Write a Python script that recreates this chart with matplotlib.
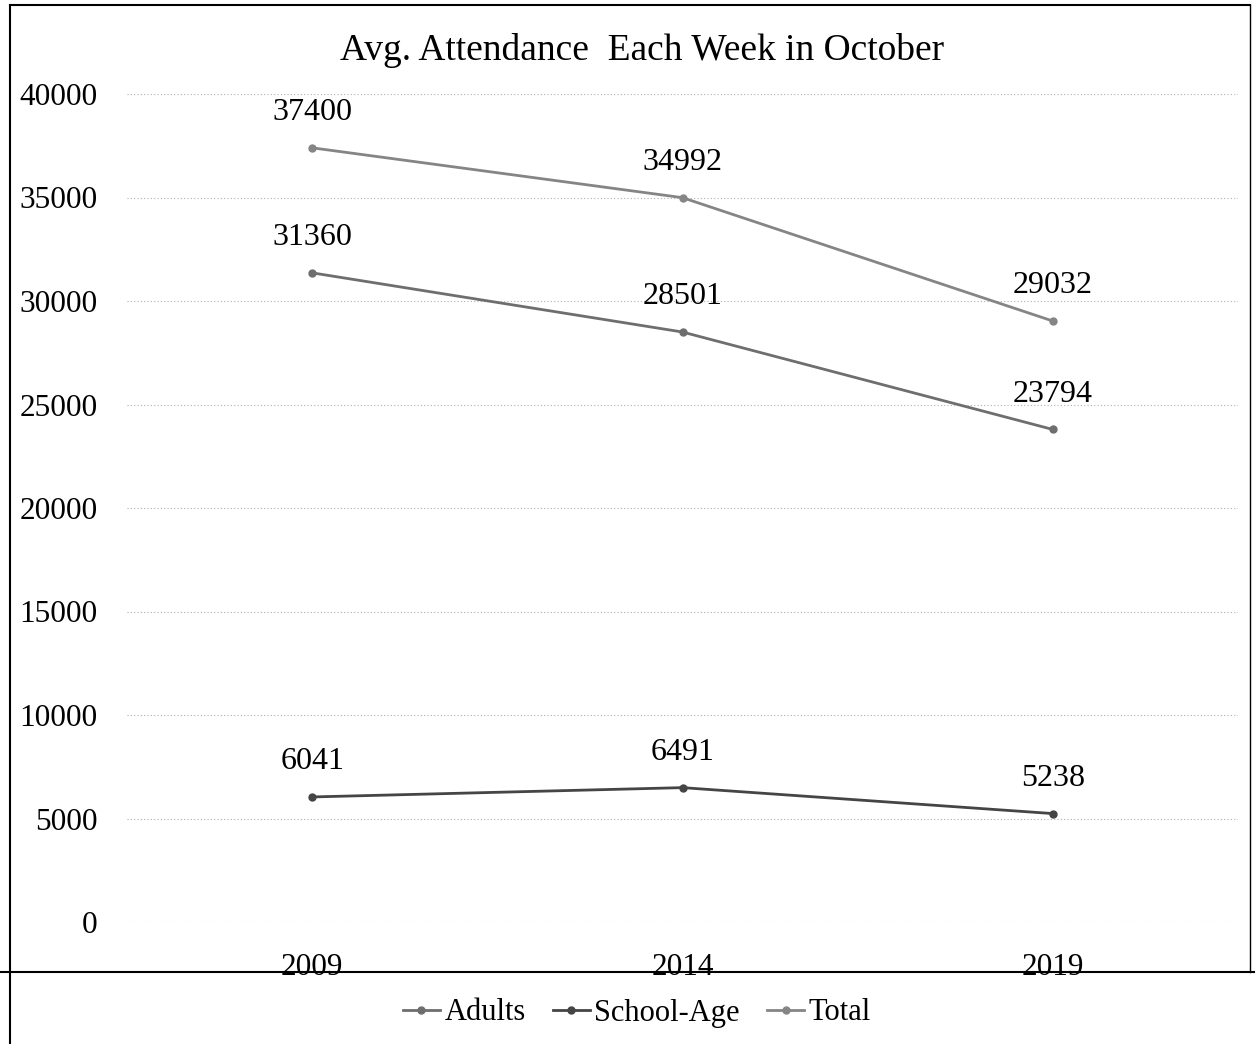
import matplotlib.pyplot as plt
from matplotlib.lines import Line2D

years = ['2009', '2014', '2019']
adults = [31360, 28501, 23794]
school_age = [6041, 6491, 5238]
total = [37400, 34992, 29032]
y_ticks = [0, 5000, 10000, 15000, 20000, 25000, 30000, 35000, 40000]

plt.rcParams['font.family'] = ['Liberation Serif', 'DejaVu Serif']

fig = plt.figure(figsize=(12.55, 10.44), dpi=100)
ax = fig.add_axes([127 / 1255, 1 - 922 / 1044, (1238 - 127) / 1255, (922 - 94) / 1044])

x = range(len(years))
series = [
    ('Adults', adults, '#6e6e6e'),
    ('School-Age', school_age, '#454545'),
    ('Total', total, '#858585'),
]
for name, values, color in series:
    ax.plot(x, values, color=color, linewidth=2, marker='o', markersize=5, label=name)
    for xi, v in zip(x, values):
        ax.annotate(str(v), (xi, v), xytext=(0, 15), textcoords='offset points',
                    ha='center', va='bottom', fontsize=23)

ax.set_xlim(-0.5, 2.5)
ax.set_ylim(0, 40000)
ax.set_yticks(y_ticks)
ax.set_yticklabels([str(t) for t in y_ticks])
ax.set_xticks(list(x))
ax.set_xticklabels(years)
ax.tick_params(axis='both', length=0, labelsize=22.5)
ax.tick_params(axis='x', pad=22)
ax.tick_params(axis='y', pad=21)
ax.grid(axis='y', color='#b0b0b0', linestyle=(0, (1, 2)), linewidth=0.8)
for s in ax.spines.values():
    s.set_visible(False)

fig.text(642 / 1255, 1 - 50 / 1044, 'Avg. Attendance  Each Week in October', ha='center', va='center', fontsize=27)

# frame lines of the scanned chart
fig.add_artist(Line2D([10 / 1255, 10 / 1255], [0, 1 - 5 / 1044], color='black', linewidth=1.5))
fig.add_artist(Line2D([10 / 1255, 1250 / 1255], [1 - 5 / 1044, 1 - 5 / 1044], color='black', linewidth=1.5))
fig.add_artist(Line2D([1250 / 1255, 1250 / 1255], [1 - 5 / 1044, 1 - 972 / 1044], color='black', linewidth=1))
fig.add_artist(Line2D([0, 1], [1 - 972 / 1044, 1 - 972 / 1044], color='black', linewidth=1.5))

handles, labels = ax.get_legend_handles_labels()
fig.legend(handles, labels, loc='center', bbox_to_anchor=(637 / 1255, 1 - 1013 / 1044), ncol=3,
           frameon=False, fontsize=22, handlelength=1.2, handletextpad=0.15, columnspacing=0.9)

fig.savefig('out.png', dpi=100)
